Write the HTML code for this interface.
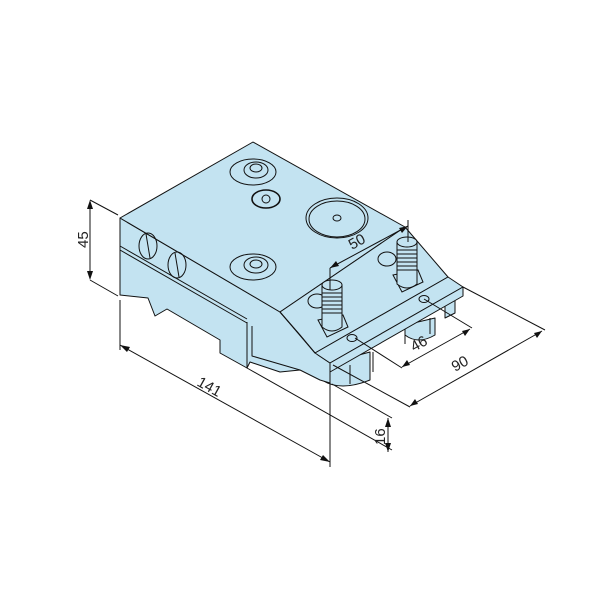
<!DOCTYPE html>
<html><head><style>html,body{margin:0;padding:0;background:#fff}svg{display:block}</style></head><body>
<svg width="600" height="600" viewBox="0 0 600 600" xmlns="http://www.w3.org/2000/svg" font-family="Liberation Sans, sans-serif">
<g stroke="#111" stroke-width="1" stroke-linejoin="round" fill="#c3e3f1">
<!-- lower right feet -->
<path d="M322,365 L322,380 Q340,392 370,380 L370,352 Z"/>
<path d="M405,325 L405,335 Q418,345 435,335 L435,318 Z"/>
<path d="M445,300 L445,318 L455,313 L455,296 Z"/>
<!-- left face -->
<path d="M120,218 L280,312 L318,355 L330,363 L330,383 L320,380 L300,370 L280,372 L250,362 L247,368 L220,353 L220,340 L167,309 L155,316 L148,298 L120,295 Z"/>
<path d="M247,322 L247,368" fill="none"/>
<path d="M252,326 L252,356 L300,370" fill="none"/>
<!-- slot line -->
<path d="M120,246 L247,319 M120,250 L247,323" fill="none"/>
<!-- top face -->
<path d="M120,218 L253,142 L405,227 L280,312 Z"/>
<!-- pin plate -->
<path d="M280,312 L405,227 L448,277 L315,353 Z"/>
<path d="M280,312 L300,335 L315,353" fill="none"/>
<!-- flange -->
<path d="M315,353 L448,277 L463,287 L330,363 Z"/>
<path d="M330,363 L463,287 L463,296 L330,372 Z"/>
<path d="M350,365 L350,384 M373,352 L373,372 M405,333 L405,344 M430,318 L430,334" fill="none"/>
</g>
<g stroke="#111" stroke-width="1" fill="none">
<!-- counterbores -->
<ellipse cx="253" cy="172" rx="23" ry="13"/><ellipse cx="256" cy="170" rx="12" ry="8"/><ellipse cx="256" cy="168" rx="6" ry="4"/>
<ellipse cx="253" cy="267" rx="23" ry="13"/><ellipse cx="256" cy="265" rx="12" ry="8"/><ellipse cx="256" cy="264" rx="6" ry="4"/>
<ellipse cx="266" cy="199" rx="14" ry="9" stroke-width="1.6"/><circle cx="266" cy="199" r="4"/>
<ellipse cx="337" cy="218" rx="31" ry="20"/><ellipse cx="337" cy="219" rx="28" ry="18"/><ellipse cx="337" cy="218" rx="4" ry="3"/>
<!-- side screws -->
<ellipse cx="148" cy="246" rx="9" ry="13"/><path d="M146,234 L150,258"/>
<ellipse cx="177" cy="265" rx="9" ry="13"/><path d="M175,253 L179,277"/>
<!-- pin pockets -->
<path d="M318,320 L327,337 L348,327 L343,315 Z"/>
<path d="M393,275 L402,292 L423,282 L418,270 Z"/>
<ellipse cx="317" cy="301" rx="9" ry="7"/><ellipse cx="387" cy="259" rx="9" ry="7"/>
<ellipse cx="352" cy="338" rx="5" ry="3.5"/><ellipse cx="424" cy="299" rx="5" ry="3.5"/>
<!-- pins -->
<path d="M322,285 L322,327 Q332,335 342,327 L342,285" fill="#c3e3f1"/>
<ellipse cx="332" cy="285" rx="10" ry="5" fill="#c3e3f1"/>
<path d="M322,293 h20 M322,297 h20 M322,301 h20 M322,305 h20 M322,309 h20 M322,313 h20"/>
<path d="M397,242 L397,284 Q407,292 417,284 L417,242" fill="#c3e3f1"/>
<ellipse cx="407" cy="242" rx="10" ry="5" fill="#c3e3f1"/>
<path d="M397,250 h20 M397,254 h20 M397,258 h20 M397,262 h20 M397,266 h20 M397,270 h20"/>
<!-- dimensions -->
<path d="M90,200 L118,215 M90,280 L118,296 M90,202 L90,278"/>
<path d="M120,300 L120,350 M330,380 L330,467 M120,345 L330,462"/>
<path d="M247,368 L392,450 M332,384 L392,418 M388,418 L388,452"/>
<path d="M333,365 L410,407 M463,287 L545,330 M410,406 L542,331"/>
<path d="M355,338 L402,368 M424,299 L472,328 M402,367 L470,329"/>
<path d="M330,268 L330,290 M408,220 L408,242 M330,268 L408,226"/>
</g>
<g fill="#111">
<path d="M90,200 l-3,9 h6z M90,280 l-3,-9 h6z"/>
<path d="M120,345 l10,2 l-3,5z M330,462 l-10,-2 l3,-5z"/>
<path d="M388,418 l-3,9 h6z M388,452 l-3,-9 h6z"/>
<path d="M410,406 l5,-7 l3,5z M542,331 l-5,7 l-3,-5z"/>
<path d="M402,367 l5,-7 l3,5z M470,329 l-5,7 l-3,-5z"/>
<path d="M330,268 l6,-7 l3,5z M408,226 l-6,7 l-3,-5z"/>
</g>
<g font-size="15" fill="#222">
<text transform="translate(88,248) rotate(-90)">45</text>
<text transform="translate(196,385) rotate(29)">141</text>
<text transform="translate(385,445) rotate(-90)">16</text>
<text transform="translate(455,372) rotate(-29)">90</text>
<text transform="translate(414,352) rotate(-29)">46</text>
<text transform="translate(352,250) rotate(-29)">50</text>
</g>
</svg>
</body></html>
